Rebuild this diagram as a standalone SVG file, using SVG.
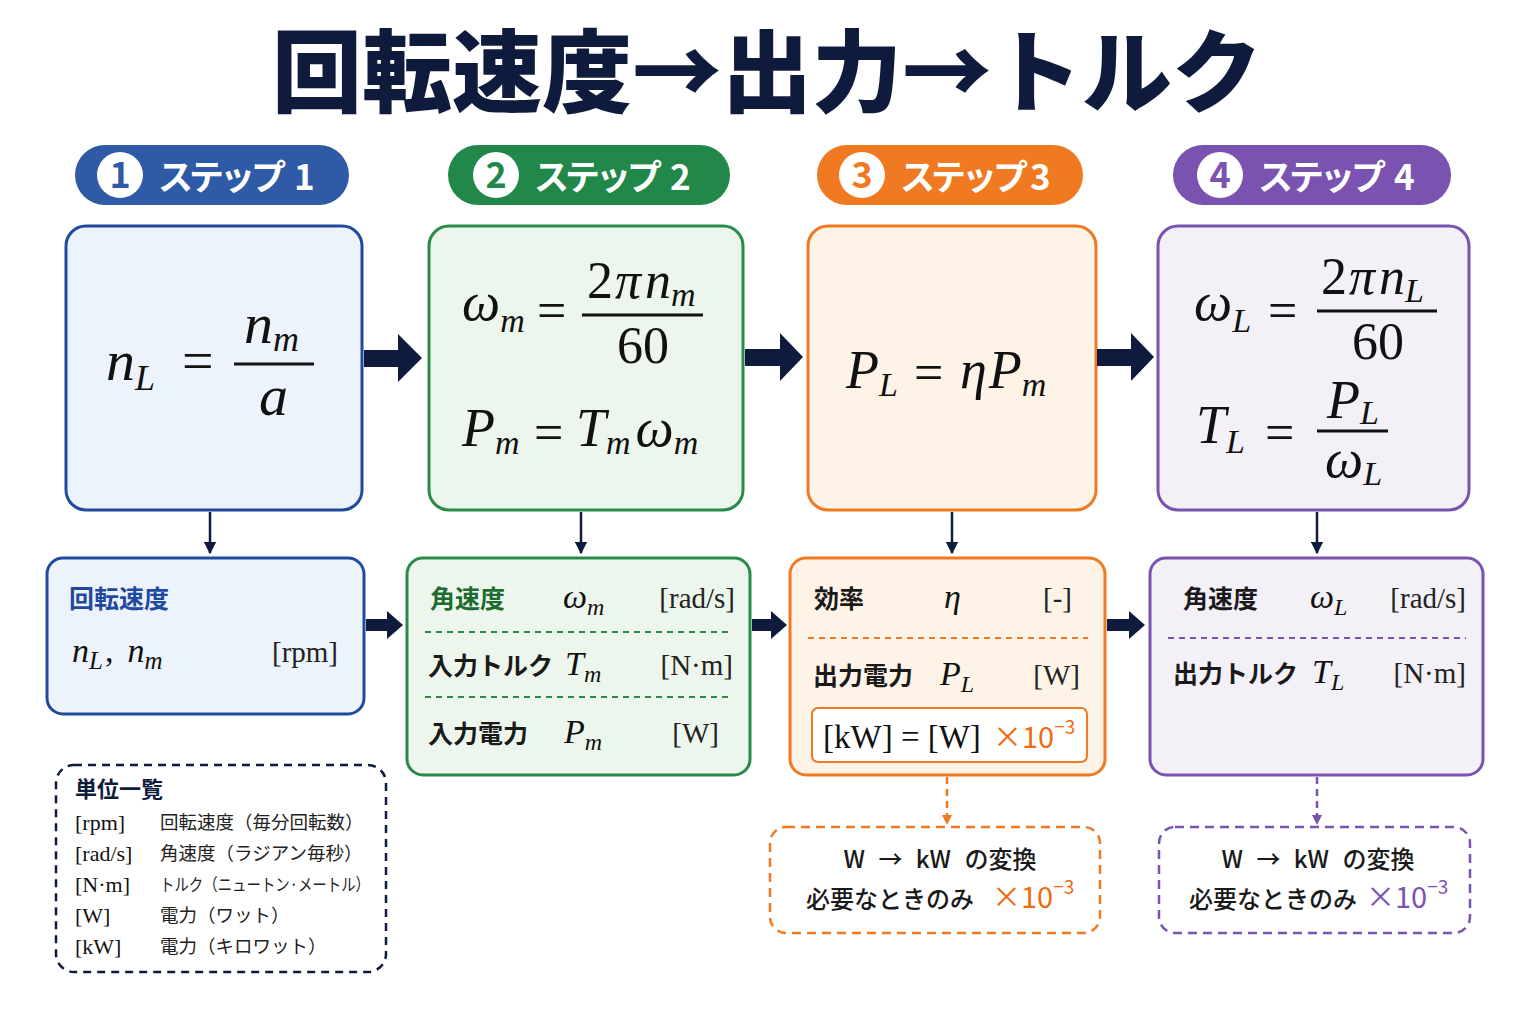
<svg xmlns="http://www.w3.org/2000/svg" width="1536" height="1024" viewBox="0 0 1536 1024">
<defs>
<style>
.jp{font-family:"Noto Sans CJK JP","Noto Sans",sans-serif}
.mi{font-family:"Liberation Serif","DejaVu Serif",serif;font-style:italic;fill:#111}
.mr{font-family:"Liberation Serif","DejaVu Serif",serif;fill:#111}
.pill-t{font-family:"Noto Sans CJK JP","Noto Sans",sans-serif;font-weight:700;fill:#fff;font-size:35px;letter-spacing:-4px}
.pill-n{font-family:"Noto Sans CJK JP","Noto Sans",sans-serif;font-weight:700;font-size:36px;text-anchor:middle}
.lbl{font-family:"Noto Sans CJK JP","Noto Sans",sans-serif;font-weight:700;font-size:25px;fill:#1a1a1a}
.unit{font-family:"Liberation Serif","DejaVu Serif",serif;font-size:29px;fill:#222}
.sym{font-family:"Liberation Serif","DejaVu Serif",serif;font-style:italic;font-size:34px;fill:#111}
.thin{stroke:#0f1b3d;stroke-width:2.5;fill:none}
</style>
<marker id="ah" viewBox="0 0 10 10" refX="9" refY="5" markerWidth="5" markerHeight="5" orient="auto" markerUnits="strokeWidth"><path d="M0,0L10,5L0,10z" fill="#0f1b3d"/></marker>
<marker id="aho" viewBox="0 0 10 10" refX="9" refY="5" markerWidth="4" markerHeight="4" orient="auto" markerUnits="strokeWidth"><path d="M0,0L10,5L0,10z" fill="#f07a22"/></marker>
<marker id="ahp" viewBox="0 0 10 10" refX="9" refY="5" markerWidth="4" markerHeight="4" orient="auto" markerUnits="strokeWidth"><path d="M0,0L10,5L0,10z" fill="#7a52b0"/></marker>
</defs>
<rect width="1536" height="1024" fill="#ffffff"/>

<text id="title" class="jp" x="767" y="105" font-size="90" font-weight="900" fill="#0f1b3d" text-anchor="middle">回転速度→出力→トルク</text>

<!-- step pills -->
<g id="step1">
<rect x="75" y="145" width="274" height="60" rx="30" fill="#2f5aa6"/>
<circle cx="120" cy="175" r="23" fill="#fff"/>
<text class="pill-n" x="120" y="188" fill="#2f5aa6">1</text>
<text class="pill-t" x="158" y="190">ステップ<tspan x="294">1</tspan></text>
</g>
<g id="step2">
<rect x="448" y="145" width="282" height="60" rx="30" fill="#22884a"/>
<circle cx="496" cy="175" r="23" fill="#fff"/>
<text class="pill-n" x="496" y="188" fill="#22884a">2</text>
<text class="pill-t" x="534" y="190">ステップ<tspan x="670">2</tspan></text>
</g>
<g id="step3">
<rect x="817" y="145" width="266" height="60" rx="30" fill="#ef7a22"/>
<circle cx="862" cy="175" r="23" fill="#fff"/>
<text class="pill-n" x="862" y="188" fill="#ef7a22">3</text>
<text class="pill-t" x="900" y="190">ステップ<tspan x="1030">3</tspan></text>
</g>
<g id="step4">
<rect x="1173" y="145" width="278" height="60" rx="30" fill="#7a52b0"/>
<circle cx="1220" cy="175" r="23" fill="#fff"/>
<text class="pill-n" x="1220" y="188" fill="#7a52b0">4</text>
<text class="pill-t" x="1258" y="190">ステップ<tspan x="1394">4</tspan></text>
</g>

<!-- formula boxes -->
<g id="formula1">
<rect x="66" y="226" width="296" height="284" rx="20" fill="#edf3fb" stroke="#1f4aa0" stroke-width="3"/>
<text class="mi" x="106" y="380" font-size="58">n<tspan font-size="36" dy="10">L</tspan></text>
<text class="mr" x="182" y="380" font-size="56">=</text>
<line x1="234" y1="364" x2="314" y2="364" stroke="#111" stroke-width="3"/>
<text class="mi" x="244" y="343" font-size="58">n<tspan font-size="36" dy="8">m</tspan></text>
<text class="mi" x="259" y="415" font-size="58">a</text>
</g>
<g id="formula2">
<rect x="429" y="226" width="314" height="284" rx="20" fill="#edf6ec" stroke="#2a8a4a" stroke-width="3"/>
<text class="mi" x="462" y="320" font-size="54">ω<tspan font-size="34" dy="12">m</tspan></text>
<text class="mr" x="537" y="328" font-size="52">=</text>
<line x1="582" y1="315" x2="703" y2="315" stroke="#111" stroke-width="3"/>
<text class="mr" x="587" y="298" font-size="52">2<tspan class="mi" font-size="52" dx="2">π</tspan><tspan class="mi" font-size="52" dx="4">n</tspan><tspan class="mi" font-size="34" dy="8">m</tspan></text>
<text class="mr" x="643" y="363" font-size="52" text-anchor="middle">60</text>
<text class="mi" x="462" y="446" font-size="54">P<tspan font-size="34" dy="8">m</tspan></text>
<text class="mr" x="534" y="450" font-size="52">=</text>
<text class="mi" x="576" y="446" font-size="54">T<tspan font-size="34" dy="8">m</tspan><tspan font-size="54" dy="-8" dx="5">ω</tspan><tspan font-size="34" dy="8">m</tspan></text>
</g>
<g id="formula3">
<rect x="808" y="226" width="288" height="284" rx="20" fill="#fef3e7" stroke="#f07a22" stroke-width="3"/>
<text class="mi" x="846" y="388" font-size="54">P<tspan font-size="34" dy="8">L</tspan></text>
<text class="mr" x="914" y="390" font-size="52">=</text>
<text class="mi" x="960" y="388" font-size="54">η<tspan dx="2">P</tspan><tspan font-size="34" dy="8">m</tspan></text>
</g>
<g id="formula4">
<rect x="1158" y="226" width="311" height="284" rx="20" fill="#f3f0f8" stroke="#7a52b0" stroke-width="3"/>
<text class="mi" x="1194" y="320" font-size="54">ω<tspan font-size="34" dy="12">L</tspan></text>
<text class="mr" x="1268" y="328" font-size="52">=</text>
<line x1="1317" y1="311" x2="1437" y2="311" stroke="#111" stroke-width="3"/>
<text class="mr" x="1321" y="294" font-size="52">2<tspan class="mi" font-size="52" dx="2">π</tspan><tspan class="mi" font-size="52" dx="4">n</tspan><tspan class="mi" font-size="34" dy="8">L</tspan></text>
<text class="mr" x="1378" y="359" font-size="52" text-anchor="middle">60</text>
<text class="mi" x="1196" y="443" font-size="54">T<tspan font-size="34" dy="10">L</tspan></text>
<text class="mr" x="1265" y="450" font-size="52">=</text>
<line x1="1317" y1="431" x2="1388" y2="431" stroke="#111" stroke-width="3"/>
<text class="mi" x="1327" y="418" font-size="54">P<tspan font-size="34" dy="6">L</tspan></text>
<text class="mi" x="1325" y="477" font-size="54">ω<tspan font-size="34" dy="8">L</tspan></text>
</g>

<!-- variable boxes -->
<g id="vars1">
<rect x="47" y="558" width="317" height="156" rx="16" fill="#edf3fb" stroke="#1f4aa0" stroke-width="3"/>
<text class="lbl" x="69" y="608" style="fill:#1f4aa0">回転速度</text>
<text class="sym" x="72" y="662" font-size="36">n<tspan font-size="25" dy="7">L</tspan><tspan class="mr" font-style="normal" dy="-7" dx="2">,</tspan><tspan dx="14">n</tspan><tspan font-size="25" dy="7">m</tspan></text>
<text class="unit" x="338" y="662" text-anchor="end">[rpm]</text>
</g>
<g id="vars2">
<rect x="407" y="558" width="343" height="217" rx="16" fill="#edf6ec" stroke="#2a8a4a" stroke-width="3"/>
<text class="lbl" x="430" y="608" style="fill:#1e6b30">角速度</text>
<text class="sym" x="563" y="608">ω<tspan font-size="24" dy="7">m</tspan></text>
<text class="unit" x="735" y="608" text-anchor="end">[rad/s]</text>
<line x1="425" y1="632" x2="733" y2="632" stroke="#2a8a4a" stroke-width="1.8" stroke-dasharray="6 5"/>
<text class="lbl" x="428" y="675">入力トルク</text>
<text class="sym" x="565" y="675">T<tspan font-size="24" dy="7">m</tspan></text>
<text class="unit" x="733" y="675" text-anchor="end">[N·m]</text>
<line x1="425" y1="697" x2="733" y2="697" stroke="#2a8a4a" stroke-width="1.8" stroke-dasharray="6 5"/>
<text class="lbl" x="428" y="743">入力電力</text>
<text class="sym" x="564" y="743">P<tspan font-size="24" dy="7">m</tspan></text>
<text class="unit" x="719" y="743" text-anchor="end">[W]</text>
</g>
<g id="vars3">
<rect x="790" y="558" width="315" height="217" rx="16" fill="#fef3e7" stroke="#f07a22" stroke-width="3"/>
<text class="lbl" x="814" y="608">効率</text>
<text class="sym" x="944" y="608">η</text>
<text class="unit" x="1072" y="608" text-anchor="end">[-]</text>
<line x1="808" y1="638" x2="1088" y2="638" stroke="#f07a22" stroke-width="1.8" stroke-dasharray="6 5"/>
<text class="lbl" x="813" y="685">出力電力</text>
<text class="sym" x="940" y="685">P<tspan font-size="24" dy="7">L</tspan></text>
<text class="unit" x="1080" y="685" text-anchor="end">[W]</text>
<rect x="812" y="708" width="275" height="54" rx="6" fill="#ffffff" stroke="#f07a22" stroke-width="2"/>
<text class="mr" x="823" y="748" font-size="33">[kW] = [W]</text>
<text class="jp" x="993" y="748" font-size="29" fill="#ef6a10">×10<tspan font-size="19" dy="-14">−3</tspan></text>
</g>
<g id="vars4">
<rect x="1150" y="558" width="333" height="217" rx="16" fill="#f3f0f8" stroke="#7a52b0" stroke-width="3"/>
<text class="lbl" x="1183" y="608">角速度</text>
<text class="sym" x="1310" y="608">ω<tspan font-size="24" dy="7">L</tspan></text>
<text class="unit" x="1466" y="608" text-anchor="end">[rad/s]</text>
<line x1="1168" y1="638" x2="1466" y2="638" stroke="#7a52b0" stroke-width="1.8" stroke-dasharray="6 5"/>
<text class="lbl" x="1173" y="683">出力トルク</text>
<text class="sym" x="1312" y="683">T<tspan font-size="24" dy="7">L</tspan></text>
<text class="unit" x="1466" y="683" text-anchor="end">[N·m]</text>
</g>

<!-- units legend -->
<g id="legend">
<rect x="56" y="765" width="330" height="207" rx="18" fill="#ffffff" stroke="#0f1b3d" stroke-width="2.5" stroke-dasharray="8 6"/>
<text class="jp" x="75" y="797" font-size="22" font-weight="700" fill="#0f1b3d">単位一覧</text>
<g class="mr" font-size="22" fill="#222">
<text x="75" y="830">[rpm]</text>
<text x="75" y="861">[rad/s]</text>
<text x="75" y="892">[N·m]</text>
<text x="75" y="923">[W]</text>
<text x="75" y="954">[kW]</text>
</g>
<g class="jp" font-size="18.5" fill="#222">
<text x="160" y="829">回転速度（毎分回転数）</text>
<text x="160" y="860">角速度（ラジアン毎秒）</text>
<text x="160" y="891" font-size="17" textLength="210" lengthAdjust="spacingAndGlyphs">トルク（ニュートン·メートル）</text>
<text x="160" y="922">電力（ワット）</text>
<text x="160" y="953">電力（キロワット）</text>
</g>
</g>

<!-- conversion notes -->
<g id="note3">
<rect x="770" y="827" width="330" height="106" rx="16" fill="#ffffff" stroke="#f07a22" stroke-width="2.5" stroke-dasharray="9 6"/>
<text class="jp" x="940" y="868" font-size="24" font-weight="500" fill="#1a1a1a" text-anchor="middle" word-spacing="8">W → kW の変換</text>
<text class="jp" x="806" y="908" font-size="24" font-weight="500" fill="#1a1a1a">必要なときのみ</text>
<text class="jp" x="992" y="908" font-size="29" fill="#ef6a10">×10<tspan font-size="19" dy="-14">−3</tspan></text>
</g>
<g id="note4">
<rect x="1159" y="827" width="311" height="106" rx="16" fill="#ffffff" stroke="#7a52b0" stroke-width="2.5" stroke-dasharray="9 6"/>
<text class="jp" x="1318" y="868" font-size="24" font-weight="500" fill="#1a1a1a" text-anchor="middle" word-spacing="8">W → kW の変換</text>
<text class="jp" x="1189" y="908" font-size="24" font-weight="500" fill="#1a1a1a">必要なときのみ</text>
<text class="jp" x="1366" y="908" font-size="29" fill="#7a52b0">×10<tspan font-size="19" dy="-14">−3</tspan></text>
</g>

<!-- connectors -->
<g id="connectors">
<path d="M364,350H398V334L422,358L398,382V367H364Z" fill="#0f1b3d"/>
<path d="M745,349H780V333L803,357L780,381V366H745Z" fill="#0f1b3d"/>
<path d="M1097,349H1131V333L1154,357L1131,381V366H1097Z" fill="#0f1b3d"/>
<path d="M366,619H387V611L403,625L387,639V631H366Z" fill="#0f1b3d"/>
<path d="M752,619H771V611L787,625L771,639V631H752Z" fill="#0f1b3d"/>
<path d="M1107,619H1129V611L1145,625L1129,639V631H1107Z" fill="#0f1b3d"/>
<line class="thin" x1="210" y1="512" x2="210" y2="553" marker-end="url(#ah)"/>
<line class="thin" x1="581" y1="512" x2="581" y2="553" marker-end="url(#ah)"/>
<line class="thin" x1="952" y1="512" x2="952" y2="553" marker-end="url(#ah)"/>
<line class="thin" x1="1317" y1="512" x2="1317" y2="553" marker-end="url(#ah)"/>
<line x1="947" y1="777" x2="947" y2="824" stroke="#f07a22" stroke-width="2.5" stroke-dasharray="7 5" marker-end="url(#aho)"/>
<line x1="1317" y1="777" x2="1317" y2="824" stroke="#7a52b0" stroke-width="2.5" stroke-dasharray="7 5" marker-end="url(#ahp)"/>
</g>
</svg>
